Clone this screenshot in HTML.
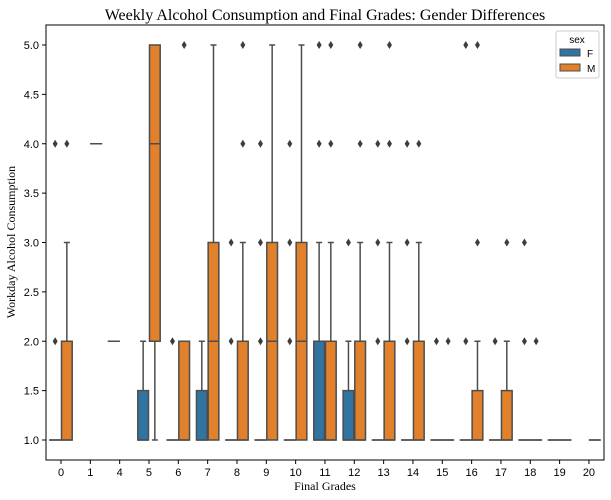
<!DOCTYPE html>
<html><head><meta charset="utf-8"><style>
body{margin:0;background:#fff}
svg{display:block;font-family:"Liberation Sans",sans-serif}
</style></head><body>
<svg id="chart" width="611" height="500">
<text x="325" y="20" text-anchor="middle" font-family="Liberation Serif,serif" font-size="16" fill="#000">Weekly Alcohol Consumption and Final Grades: Gender Differences</text>
<g id="plot"></g>
<rect x="46" y="25" width="558" height="435" fill="none" stroke="#000" stroke-width="1"/>
<text x="325" y="490" text-anchor="middle" font-family="Liberation Serif,serif" font-size="12">Final Grades</text>
<text transform="translate(15,242) rotate(-90)" text-anchor="middle" font-family="Liberation Serif,serif" font-size="12">Workday Alcohol Consumption</text>
<g>
<rect x="556" y="31" width="43" height="47" fill="#fff" stroke="#ccc" rx="2"/>
<text x="577" y="43" text-anchor="middle" font-size="10">sex</text>
<rect x="560" y="49" width="20" height="7" fill="#3274a1" stroke="#4d4d4d"/>
<text x="587" y="57" font-size="10">F</text>
<rect x="560" y="64" width="20" height="7" fill="#e1812c" stroke="#4d4d4d"/>
<text x="587" y="72" font-size="10">M</text>
</g>
</svg>
<script>
const categories=["0","1","4","5","6","7","8","9","10","11","12","13","14","15","16","17","18","19","20"];
const yTicks=[1.0,1.5,2.0,2.5,3.0,3.5,4.0,4.5,5.0];
// each: [wlo,q1,med,q3,whi] or null
const femaleStats=[[1,1,1,1,1],null,[2,2,2,2,2],[1,1,1,1.5,2],[1,1,1,1,1],[1,1,1,1.5,2],[1,1,1,1,1],[1,1,1,1,1],[1,1,1,1,1],[1,1,1,2,3],[1,1,1,1.5,2],[1,1,1,1,1],[1,1,1,1,1],[1,1,1,1,1],[1,1,1,1,1],[1,1,1,1,1],[1,1,1,1,1],[1,1,1,1,1],null];
const maleStats=[[1,1,1,2,3],[4,4,4,4,4],null,[1,2,4,5,5],[1,1,1,2,2],[1,1,2,3,5],[1,1,1,2,3],[1,1,2,3,5],[1,1,2,3,5],[1,1,1,2,3],[1,1,1,2,3],[1,1,1,2,3],[1,1,1,2,3],[1,1,1,1,1],[1,1,1,1.5,2],[1,1,1,1.5,2],[1,1,1,1,1],[1,1,1,1,1],[1,1,1,1,1]];
const femaleOutliers=[[2,4],[],[],[],[2],[],[2,3],[2,3,4],[2,3,4],[4,5],[3],[2,3,4],[2,3,4],[2],[2,5],[2],[2,3],[],[]];
const maleOutliers=[[4],[],[],[],[5],[],[4,5],[],[],[4,5],[4,5],[4,5],[4],[2],[3,5],[3],[2],[],[]];

const NS="http://www.w3.org/2000/svg";
const g=document.getElementById('plot');
const L=46,R=604,T=25,B=460;
const step=29.33, x0=61;
const xPos=i=>x0+i*step;
const yPos=v=>440-(v-1)*98.75;
const EC="#4d4d4d";
function mk(tag,attrs){const e=document.createElementNS(NS,tag);for(const k in attrs)e.setAttribute(k,attrs[k]);g.appendChild(e);return e;}
yTicks.forEach(v=>{
  const y=yPos(v);
  const t=mk('line',{x1:L-4,x2:L,y1:y,y2:y,stroke:'#000'});
  
  
  const tx=mk('text',{x:L-7,y:y+4,'text-anchor':'end','font-size':'11'});
  tx.textContent=v.toFixed(1);
  
  
});
categories.forEach((c,i)=>{
  const x=xPos(i);
  const t=mk('line',{x1:x,x2:x,y1:B,y2:B+4,stroke:'#000'});
  
  
  const tx=mk('text',{x:x,y:B+16,'text-anchor':'middle','font-size':'11'});
  tx.textContent=c;
  
  
});
const hw=11.7;
function drawBox(s,out,cx,color,name){
  if(s){
    const [lo,q1,md,q3,hi]=s;
    const l=cx-hw/2+0.5,r=cx+hw/2-0.5;
    if(hi>q3){const w=mk('line',{x1:cx,x2:cx,y1:yPos(q3),y2:yPos(hi),stroke:EC,'stroke-width':1.5});
      const c=mk('line',{x1:cx-3,x2:cx+3,y1:yPos(hi),y2:yPos(hi),stroke:EC,'stroke-width':1.5});}
    if(lo<q1){const w=mk('line',{x1:cx,x2:cx,y1:yPos(q1),y2:yPos(lo),stroke:EC,'stroke-width':1.5});
      const c=mk('line',{x1:cx-3,x2:cx+3,y1:yPos(lo),y2:yPos(lo),stroke:EC,'stroke-width':1.5});}
    const b=mk('rect',{x:l,y:yPos(q3),width:r-l,height:Math.max(yPos(q1)-yPos(q3),0.01),fill:color,stroke:EC,'stroke-width':1.5});
    
    
    const m=mk('line',{x1:l,x2:r,y1:yPos(md),y2:yPos(md),stroke:EC,'stroke-width':1.5});
    
    
  }
  out.forEach(v=>{
    const y=yPos(v);
    const d=mk('path',{d:`M${cx},${y-4}L${cx+2.5},${y}L${cx},${y+4}L${cx-2.5},${y}Z`,fill:'#3d3d3d'});
    
    
  });
}
categories.forEach((c,i)=>{
  const x=xPos(i);
  drawBox(femaleStats[i],femaleOutliers[i],x-hw/2,'#3274a1','female-'+c);
  drawBox(maleStats[i],maleOutliers[i],x+hw/2,'#e1812c','male-'+c);
});
</script>
</body></html>
